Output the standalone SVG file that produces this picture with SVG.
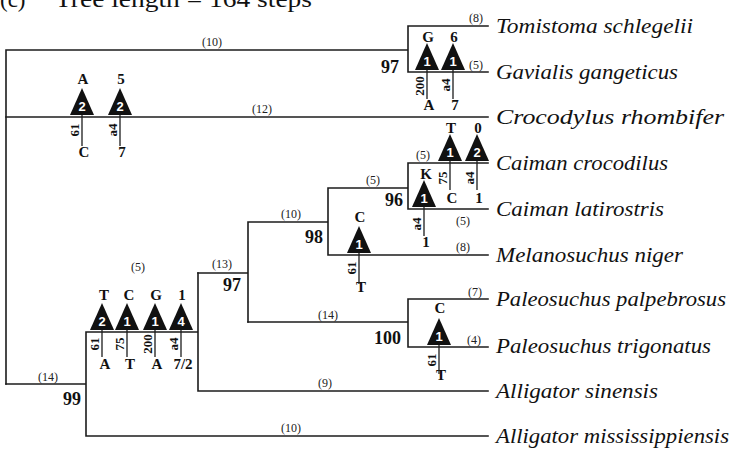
<svg xmlns="http://www.w3.org/2000/svg" xmlns:xlink="http://www.w3.org/1999/xlink" width="730" height="450" viewBox="0 0 730 450">
<style>
.br{stroke:#1c1c1c;stroke-width:1.6;fill:none;stroke-linecap:square}
.tx{font-family:"Liberation Serif",serif;font-style:italic;font-size:20px;fill:#111}
.bl{font-family:"Liberation Serif",serif;font-size:12px;fill:#222;text-anchor:middle}
.bs{font-family:"Liberation Serif",serif;font-weight:bold;font-size:18px;fill:#111;text-anchor:end}
.st{font-family:"Liberation Serif",serif;font-weight:bold;font-size:15px;fill:#111;text-anchor:middle}
.ps{font-family:"Liberation Serif",serif;font-weight:bold;font-size:13px;fill:#111;text-anchor:middle}
.num{font-family:"Liberation Sans",sans-serif;font-weight:bold;font-size:13px;fill:#fff;text-anchor:middle}
.tk{stroke:#1c1c1c;stroke-width:1.3}
.hd{font-family:"Liberation Serif",serif;font-size:23px;fill:#111}
</style>
<defs>
<path id="tri" d="M-12,0 L12,0 L0,-27 Z" fill="#111"/>
</defs>
<rect width="730" height="450" fill="#fff"/>

<g id="header">
<text class="hd" x="0" y="7">(c)</text>
<text class="hd" x="55" y="7" textLength="257" lengthAdjust="spacingAndGlyphs">Tree length = 164 steps</text>
</g>

<g id="connectors">
<path class="br" d="M6,50 V384 M6,50 H408 M408,26 V72 M408,26 H488 M408,72 H488"/>
<path class="br" d="M6,117 H488"/>
<path class="br" d="M6,384 H86 M86,332 V436 M86,436 H488 M86,332 H198 M198,273 V391 M198,391 H488"/>
<path class="br" d="M198,273 H248 M248,222 V322 M248,222 H328 M328,188 V255 M328,255 H488 M328,188 H408 M408,163 V209 M408,163 H488 M408,209 H488"/>
<path class="br" d="M248,322 H408 M408,299 V347 M408,299 H488 M408,347 H488"/>
</g>

<g id="branch-lengths">
<text class="bl" x="212" y="46">(10)</text>
<text class="bl" x="262" y="113">(12)</text>
<text class="bl" x="476" y="22">(8)</text>
<text class="bl" x="476" y="69">(5)</text>
<text class="bl" x="423" y="159">(5)</text>
<text class="bl" x="463" y="225">(5)</text>
<text class="bl" x="463" y="251">(8)</text>
<text class="bl" x="373" y="184">(5)</text>
<text class="bl" x="291" y="218">(10)</text>
<text class="bl" x="222" y="268">(13)</text>
<text class="bl" x="138" y="271">(5)</text>
<text class="bl" x="48" y="381">(14)</text>
<text class="bl" x="328" y="319">(14)</text>
<text class="bl" x="325" y="387">(9)</text>
<text class="bl" x="291" y="432">(10)</text>
<text class="bl" x="475" y="296">(7)</text>
<text class="bl" x="474" y="344">(4)</text>
</g>

<g id="support">
<text class="bs" x="399" y="73">97</text>
<text class="bs" x="403" y="206">96</text>
<text class="bs" x="323" y="243">98</text>
<text class="bs" x="241" y="291">97</text>
<text class="bs" x="401" y="344">100</text>
<text class="bs" x="81" y="405">99</text>
</g>

<g id="taxon-tomistoma"><text class="tx" x="496" y="33" textLength="197" lengthAdjust="spacingAndGlyphs">Tomistoma schlegelii</text></g>
<g id="taxon-gavialis"><text class="tx" x="496" y="79" textLength="182" lengthAdjust="spacingAndGlyphs">Gavialis gangeticus</text></g>
<g id="taxon-crocodylus"><text class="tx" x="496" y="124" textLength="228" lengthAdjust="spacingAndGlyphs">Crocodylus rhombifer</text></g>
<g id="taxon-caiman-croc"><text class="tx" x="496" y="170" textLength="172" lengthAdjust="spacingAndGlyphs">Caiman crocodilus</text></g>
<g id="taxon-caiman-lat"><text class="tx" x="496" y="216" textLength="168" lengthAdjust="spacingAndGlyphs">Caiman latirostris</text></g>
<g id="taxon-melanosuchus"><text class="tx" x="496" y="262" textLength="187" lengthAdjust="spacingAndGlyphs">Melanosuchus niger</text></g>
<g id="taxon-paleo-palp"><text class="tx" x="496" y="306" textLength="230" lengthAdjust="spacingAndGlyphs">Paleosuchus palpebrosus</text></g>
<g id="taxon-paleo-trig"><text class="tx" x="496" y="353" textLength="215" lengthAdjust="spacingAndGlyphs">Paleosuchus trigonatus</text></g>
<g id="taxon-all-sin"><text class="tx" x="496" y="398" textLength="162" lengthAdjust="spacingAndGlyphs">Alligator sinensis</text></g>
<g id="taxon-all-miss"><text class="tx" x="496" y="443" textLength="233" lengthAdjust="spacingAndGlyphs">Alligator mississippiensis</text></g>

<g id="m-croc-1">
<line class="tk" x1="82" y1="110" x2="82" y2="146"/>
<use xlink:href="#tri" x="82" y="115"/>
<text class="st" x="83" y="84">A</text>
<text class="num" x="82" y="111">2</text>
<text class="ps" transform="translate(79,130) rotate(-90)">61</text>
<text class="st" x="84" y="157">C</text>
</g>
<g id="m-croc-2">
<line class="tk" x1="120" y1="110" x2="120" y2="146"/>
<use xlink:href="#tri" x="120" y="115"/>
<text class="st" x="121" y="84">5</text>
<text class="num" x="120" y="111">2</text>
<text class="ps" transform="translate(117,130) rotate(-90)">a4</text>
<text class="st" x="122" y="157">7</text>
</g>

<g id="m-gav-1">
<line class="tk" x1="427" y1="65" x2="427" y2="99"/>
<use xlink:href="#tri" x="427" y="70"/>
<text class="st" x="428" y="42">G</text>
<text class="num" x="427" y="66">1</text>
<text class="ps" transform="translate(424,86) rotate(-90)">200</text>
<text class="st" x="429" y="110">A</text>
</g>
<g id="m-gav-2">
<line class="tk" x1="453" y1="65" x2="453" y2="99"/>
<use xlink:href="#tri" x="453" y="70"/>
<text class="st" x="454" y="42">6</text>
<text class="num" x="453" y="66">1</text>
<text class="ps" transform="translate(450,85) rotate(-90)">a4</text>
<text class="st" x="455" y="110">7</text>
</g>

<g id="m-ccroc-1">
<line class="tk" x1="450" y1="156" x2="450" y2="190"/>
<use xlink:href="#tri" x="450" y="161"/>
<text class="st" x="451" y="133">T</text>
<text class="num" x="450" y="157">1</text>
<text class="ps" transform="translate(447,178) rotate(-90)">75</text>
<text class="st" x="452" y="203">C</text>
</g>
<g id="m-ccroc-2">
<line class="tk" x1="477" y1="156" x2="477" y2="190"/>
<use xlink:href="#tri" x="477" y="161"/>
<text class="st" x="478" y="133">0</text>
<text class="num" x="477" y="157">2</text>
<text class="ps" transform="translate(474,178) rotate(-90)">a4</text>
<text class="st" x="479" y="203">1</text>
</g>

<g id="m-clat">
<line class="tk" x1="424" y1="202" x2="424" y2="236"/>
<use xlink:href="#tri" x="424" y="207"/>
<text class="st" x="426" y="179">K</text>
<text class="num" x="424" y="203">1</text>
<text class="ps" transform="translate(421,224) rotate(-90)">a4</text>
<text class="st" x="426" y="247">1</text>
</g>

<g id="m-mel">
<line class="tk" x1="359" y1="248" x2="359" y2="284"/>
<use xlink:href="#tri" x="359" y="253"/>
<text class="st" x="360" y="222">C</text>
<text class="num" x="359" y="249">1</text>
<text class="ps" transform="translate(356,268) rotate(-90)">61</text>
<text class="st" x="361" y="292">T</text>
</g>

<g id="m-paleo">
<line class="tk" x1="439" y1="340" x2="439" y2="374"/>
<use xlink:href="#tri" x="439" y="345"/>
<text class="st" x="440" y="313">C</text>
<text class="num" x="439" y="341">1</text>
<text class="ps" transform="translate(436,360) rotate(-90)">61</text>
<text class="st" x="441" y="380">T</text>
</g>

<g id="m-all-1">
<line class="tk" x1="102" y1="325" x2="102" y2="357"/>
<use xlink:href="#tri" x="102" y="330"/>
<text class="st" x="104" y="300">T</text>
<text class="num" x="102" y="326">2</text>
<text class="ps" transform="translate(99,344) rotate(-90)">61</text>
<text class="st" x="105" y="369">A</text>
</g>
<g id="m-all-2">
<line class="tk" x1="127" y1="325" x2="127" y2="357"/>
<use xlink:href="#tri" x="127" y="330"/>
<text class="st" x="129" y="300">C</text>
<text class="num" x="127" y="326">1</text>
<text class="ps" transform="translate(124,344) rotate(-90)">75</text>
<text class="st" x="130" y="369">T</text>
</g>
<g id="m-all-3">
<line class="tk" x1="155" y1="325" x2="155" y2="357"/>
<use xlink:href="#tri" x="155" y="330"/>
<text class="st" x="156" y="300">G</text>
<text class="num" x="155" y="326">1</text>
<text class="ps" transform="translate(152,344) rotate(-90)">200</text>
<text class="st" x="157" y="369">A</text>
</g>
<g id="m-all-4">
<line class="tk" x1="181" y1="325" x2="181" y2="357"/>
<use xlink:href="#tri" x="181" y="330"/>
<text class="st" x="182" y="300">1</text>
<text class="num" x="181" y="326">4</text>
<text class="ps" transform="translate(178,344) rotate(-90)">a4</text>
<text class="st" x="183" y="369">7/2</text>
</g>
</svg>
